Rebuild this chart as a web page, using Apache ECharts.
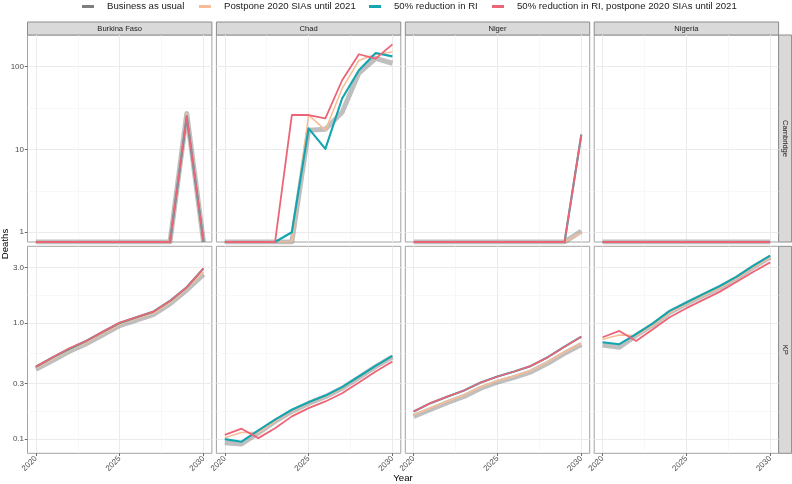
<!DOCTYPE html>
<html><head><meta charset="utf-8">
<script src="https://cdn.jsdelivr.net/npm/echarts@6/dist/echarts.min.js"></script>
<style>html,body{margin:0;padding:0;background:#fff}#c{width:792px;height:484px}</style>
</head><body><div id="c"></div>
<script>
// ---------- data ----------
const years = [2020, 2021, 2022, 2023, 2024, 2025, 2026, 2027, 2028, 2029, 2030];
const countries = ['Burkina Faso', 'Chad', 'Niger', 'Nigeria'];
const models = ['Cambridge', 'KP'];
const scenarios = ['Business as usual', 'Postpone 2020 SIAs until 2021', '50% reduction in RI', '50% reduction in RI, postpone 2020 SIAs until 2021'];

const xTickValues = [2020, 2025, 2030];
const xTickLabels = ['2020', '2025', '2030'];
const camTickValues = [1, 10, 100];
const camTickLabels = ['1', '10', '100'];
const kpTickValues = [0.1, 0.3, 1, 3];
const kpTickLabels = ['0.1', '0.3', '1.0', '3.0'];

// Cambridge model (0 = no deaths)
const camBurkinaBAU    = [0, 0, 0, 0, 0, 0, 0, 0, 0, 27, 0];
const camBurkinaPost   = [0, 0, 0, 0, 0, 0, 0, 0, 0, 27, 0];
const camBurkinaRI     = [0, 0, 0, 0, 0, 0, 0, 0, 0, 25, 0];
const camBurkinaRIPost = [0, 0, 0, 0, 0, 0, 0, 0, 0, 25, 0];

const camChadBAU    = [0, 0, 0, 0, 0, 17, 17.5, 28, 83, 125, 109];
const camChadPost   = [0, 0, 0, 0, 0, 26, 17, 54, 118, 140, 149];
const camChadRI     = [0, 0, 0, 0, 1.0, 17.9, 10.1, 41, 90, 145, 132];
const camChadRIPost = [0, 0, 0, 0, 25.9, 25.9, 23.6, 68, 140, 124, 184];

const camNigerBAU    = [0, 0, 0, 0, 0, 0, 0, 0, 0, 0, 1.03];
const camNigerPost   = [0, 0, 0, 0, 0, 0, 0, 0, 0, 0, 0.99];
const camNigerRI     = [0, 0, 0, 0, 0, 0, 0, 0, 0, 0, 15];
const camNigerRIPost = [0, 0, 0, 0, 0, 0, 0, 0, 0, 0, 15];

const camNigeriaBAU    = [0, 0, 0, 0, 0, 0, 0, 0, 0, 0, 0];
const camNigeriaPost   = [0, 0, 0, 0, 0, 0, 0, 0, 0, 0, 0];
const camNigeriaRI     = [0, 0, 0, 0, 0, 0, 0, 0, 0, 0, 0];
const camNigeriaRIPost = [0, 0, 0, 0, 0, 0, 0, 0, 0, 0, 0];

// KP model
const kpBurkinaBAU    = [0.40, 0.475, 0.57, 0.66, 0.79, 0.95, 1.06, 1.18, 1.46, 1.92, 2.62];
const kpBurkinaPost   = [0.41, 0.49, 0.585, 0.68, 0.815, 0.975, 1.09, 1.21, 1.50, 1.97, 2.75];
const kpBurkinaRI     = [0.42, 0.505, 0.60, 0.70, 0.84, 1.0, 1.12, 1.25, 1.55, 2.03, 2.95];
const kpBurkinaRIPost = [0.421, 0.507, 0.606, 0.70, 0.842, 1.006, 1.12, 1.25, 1.55, 2.03, 2.95];

const kpChadBAU    = [0.093, 0.091, 0.113, 0.142, 0.173, 0.203, 0.232, 0.274, 0.338, 0.42, 0.51];
const kpChadPost   = [0.103, 0.114, 0.114, 0.143, 0.175, 0.205, 0.234, 0.277, 0.341, 0.423, 0.515];
const kpChadRI     = [0.10, 0.095, 0.119, 0.147, 0.179, 0.208, 0.237, 0.28, 0.346, 0.427, 0.52];
const kpChadRIPost = [0.109, 0.123, 0.102, 0.124, 0.157, 0.185, 0.211, 0.248, 0.307, 0.382, 0.465];

const kpNigerBAU    = [0.157, 0.180, 0.206, 0.233, 0.274, 0.309, 0.340, 0.380, 0.450, 0.548, 0.652];
const kpNigerPost   = [0.162, 0.185, 0.212, 0.240, 0.282, 0.318, 0.350, 0.390, 0.462, 0.562, 0.669];
const kpNigerRI     = [0.173, 0.204, 0.232, 0.262, 0.307, 0.346, 0.382, 0.427, 0.507, 0.625, 0.762];
const kpNigerRIPost = [0.173, 0.204, 0.232, 0.262, 0.307, 0.346, 0.382, 0.427, 0.507, 0.625, 0.762];

const kpNigeriaBAU    = [0.647, 0.618, 0.78, 0.96, 1.23, 1.46, 1.72, 2.02, 2.43, 3.02, 3.68];
const kpNigeriaPost   = [0.724, 0.788, 0.78, 0.96, 1.23, 1.46, 1.72, 2.02, 2.43, 3.02, 3.68];
const kpNigeriaRI     = [0.682, 0.656, 0.80, 0.99, 1.27, 1.50, 1.77, 2.08, 2.50, 3.11, 3.79];
const kpNigeriaRIPost = [0.753, 0.853, 0.70, 0.883, 1.12, 1.34, 1.58, 1.86, 2.26, 2.76, 3.32];

// ---------- assembly ----------
const panelData = [
  [[camBurkinaBAU, camBurkinaPost, camBurkinaRI, camBurkinaRIPost],
   [camChadBAU, camChadPost, camChadRI, camChadRIPost],
   [camNigerBAU, camNigerPost, camNigerRI, camNigerRIPost],
   [camNigeriaBAU, camNigeriaPost, camNigeriaRI, camNigeriaRIPost]],
  [[kpBurkinaBAU, kpBurkinaPost, kpBurkinaRI, kpBurkinaRIPost],
   [kpChadBAU, kpChadPost, kpChadRI, kpChadRIPost],
   [kpNigerBAU, kpNigerPost, kpNigerRI, kpNigerRIPost],
   [kpNigeriaBAU, kpNigeriaPost, kpNigeriaRI, kpNigeriaRIPost]]
];
const rowTicks = [[camTickValues, camTickLabels], [kpTickValues, kpTickLabels]];

const colors = ['#7f7f7f', '#F8BD96', '#13A5B0', '#EC6577'];
const widths = [5, 1.6, 2.1, 1.8];
const opac = [0.5, 1, 1, 1];
const FONT = 'Liberation Sans';

const PL = [27.5, 216.4, 405.3, 594.2];
const PW = 184.4;
const PT = [35, 246.3];
const PH = 207;

function rowRange(r) {
  let lo = Infinity, hi = -Infinity;
  panelData[r].forEach(c => c.forEach(s => s.forEach(v => {
    if (v > 0) { const l = Math.log10(v); lo = Math.min(lo, l); hi = Math.max(hi, l); }
  })));
  const pad = (hi - lo) * 0.05;
  return [lo - pad, hi + pad];
}
function midpoints(a) { const m = []; for (let i = 0; i < a.length - 1; i++) m.push((a[i] + a[i + 1]) / 2); return m; }

const grid = [], xAxis = [], yAxis = [], series = [];
const ranges = [rowRange(0), rowRange(1)];
let g = 0;
for (let r = 0; r < 2; r++) {
  const [lo, hi] = ranges[r];
  const tv = rowTicks[r][0].map(v => Math.log10(v));
  const tl = rowTicks[r][1];
  const yMinor = midpoints(tv).filter(v => v > lo && v < hi);
  for (let c = 0; c < 4; c++) {
    grid.push({ left: PL[c], top: PT[r], width: PW, height: PH, show: true,
      backgroundColor: '#ffffff', borderColor: '#a3a3a3', borderWidth: 1 });
    // major x
    xAxis.push({ gridIndex: g, type: 'value', min: 2019.5, max: 2030.5, position: 'bottom',
      axisLine: { show: false, onZero: false },
      axisTick: { show: r === 1, customValues: xTickValues, length: 2.75, lineStyle: { color: '#444', width: 0.8 } },
      axisLabel: { show: r === 1, customValues: xTickValues, rotate: 45, margin: 4, fontSize: 8, color: '#4d4d4d', fontFamily: FONT,
        formatter: v => xTickLabels[xTickValues.indexOf(Math.round(v))] },
      splitLine: { show: true, lineStyle: { color: '#ebebeb', width: 1 } } });
    // minor x
    xAxis.push({ gridIndex: g, type: 'value', min: 2019.5, max: 2030.5, position: 'top',
      axisLine: { show: false, onZero: false }, axisLabel: { show: false },
      axisTick: { show: false, customValues: midpoints(xTickValues) },
      splitLine: { show: true, lineStyle: { color: '#f4f4f4', width: 0.6 } } });
    // major y
    yAxis.push({ gridIndex: g, type: 'value', min: lo, max: hi, position: 'left',
      axisLine: { show: false, onZero: false },
      axisTick: { show: c === 0, customValues: tv, length: 2.75, lineStyle: { color: '#444', width: 0.8 } },
      axisLabel: { show: c === 0, customValues: tv, margin: 3.5, fontSize: 8, color: '#4d4d4d', fontFamily: FONT,
        formatter: v => { let bi = 0, bd = Infinity; tv.forEach((t, i) => { const d = Math.abs(t - v); if (d < bd) { bd = d; bi = i; } }); return tl[bi]; } },
      splitLine: { show: true, lineStyle: { color: '#ebebeb', width: 1 } } });
    // minor y
    yAxis.push({ gridIndex: g, type: 'value', min: lo, max: hi, position: 'right',
      axisLine: { show: false, onZero: false }, axisLabel: { show: false },
      axisTick: { show: false, customValues: yMinor },
      splitLine: { show: true, lineStyle: { color: '#f4f4f4', width: 0.6 } } });

    panelData[r][c].forEach((vals, s) => {
      series.push({ type: 'line', name: scenarios[s], xAxisIndex: 2 * g, yAxisIndex: 2 * g,
        data: years.map((yr, k) => [yr, vals[k] > 0 ? Math.log10(vals[k]) : lo]),
        symbol: 'none', showSymbol: false, clip: true, silent: true, animation: false,
        color: colors[s], z: 2 + s,
        itemStyle: { color: colors[s] },
        lineStyle: { color: colors[s], width: widths[s], opacity: opac[s], join: 'round', cap: 'butt' } });
    });
    g++;
  }
}

const legendLeft = [82, 199, 369, 492];
const legend = scenarios.map((name, i) => ({
  left: legendLeft[i], top: 1.5, padding: 0, selectedMode: false,
  icon: 'rect', itemWidth: 12, itemHeight: 3,
  data: [{ name, itemStyle: { color: colors[i], opacity: 1, borderWidth: 0 } }],
  textStyle: { fontSize: 9.6, color: '#1a1a1a', fontFamily: FONT, padding: [0, 0, 0, 8] }
}));

const graphic = [];
countries.forEach((name, c) => {
  graphic.push({ type: 'rect', shape: { x: PL[c], y: 22, width: PW, height: 13 },
    style: { fill: '#d9d9d9', stroke: '#8c8c8c', lineWidth: 1 }, silent: true });
  graphic.push({ type: 'text', x: PL[c] + PW / 2, y: 28.5,
    style: { text: name, fontSize: 7.6, fill: '#1a1a1a', fontFamily: FONT, align: 'center', verticalAlign: 'middle' }, silent: true });
});
models.forEach((name, r) => {
  const sx = PL[3] + PW;
  graphic.push({ type: 'rect', shape: { x: sx, y: PT[r], width: 13, height: PH },
    style: { fill: '#d9d9d9', stroke: '#8c8c8c', lineWidth: 1 }, silent: true });
  graphic.push({ type: 'text', x: sx + 6.5, y: PT[r] + PH / 2, rotation: -Math.PI / 2,
    style: { text: name, fontSize: 7.6, fill: '#1a1a1a', fontFamily: FONT, align: 'center', verticalAlign: 'middle' }, silent: true });
});
graphic.push({ type: 'text', x: 5.5, y: 244, rotation: Math.PI / 2,
  style: { text: 'Deaths', fontSize: 9.6, fill: '#000', fontFamily: FONT, align: 'center', verticalAlign: 'middle' }, silent: true });
graphic.push({ type: 'text', x: 403, y: 478,
  style: { text: 'Year', fontSize: 9.6, fill: '#000', fontFamily: FONT, align: 'center', verticalAlign: 'middle' }, silent: true });

const chart = echarts.init(document.getElementById('c'), null, { renderer: 'canvas' });
chart.setOption({
  animation: false,
  backgroundColor: '#ffffff',
  textStyle: { fontFamily: FONT },
  grid, xAxis, yAxis, series, legend, graphic
});
</script></body></html>
